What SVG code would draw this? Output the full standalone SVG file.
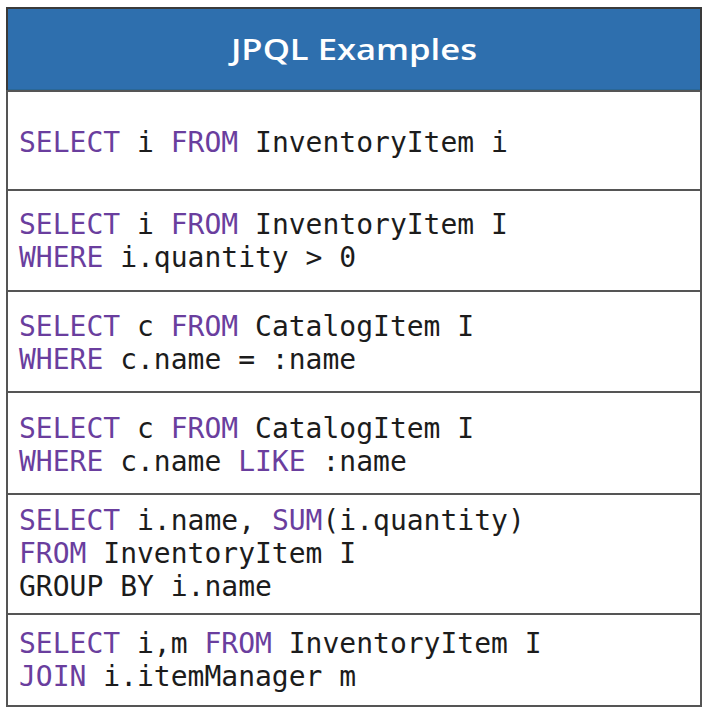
<svg xmlns="http://www.w3.org/2000/svg" width="707" height="712" viewBox="0 0 707 712">
<style>
.code{font-family:"DejaVu Sans Mono","Liberation Mono",monospace;font-size:28px;fill:#1c1c1c}
.kw{fill:#6a3e9e}
.title{font-family:"Open Sans",Lato,sans-serif;font-size:28px;font-weight:600;fill:#ffffff}
.row{fill:#ffffff;stroke:#555555;stroke-width:2}
</style>
<rect x="0" y="0" width="707" height="712" fill="#ffffff"/>
<g id="header">
<rect x="7" y="8" width="694" height="83" fill="#2e6fae" stroke="#3a3a3a" stroke-width="2"/>
<line x1="7" y1="91" x2="701" y2="91" stroke="#1f4f5a" stroke-width="2.5"/>
<text class="title" x="354" y="60" text-anchor="middle" textLength="246" lengthAdjust="spacingAndGlyphs">JPQL Examples</text>
</g>
<g id="row1">
<rect class="row" x="7" y="91" width="694" height="99"/>
<text class="code" x="19" y="152"><tspan class="kw">SELECT</tspan> i <tspan class="kw">FROM</tspan> InventoryItem i</text>
</g>
<g id="row2">
<rect class="row" x="7" y="190" width="694" height="101"/>
<text class="code" x="19" y="234"><tspan class="kw">SELECT</tspan> i <tspan class="kw">FROM</tspan> InventoryItem I</text>
<text class="code" x="19" y="267"><tspan class="kw">WHERE</tspan> i.quantity &gt; 0</text>
</g>
<g id="row3">
<rect class="row" x="7" y="291" width="694" height="101"/>
<text class="code" x="19" y="336"><tspan class="kw">SELECT</tspan> c <tspan class="kw">FROM</tspan> CatalogItem I</text>
<text class="code" x="19" y="369"><tspan class="kw">WHERE</tspan> c.name = :name</text>
</g>
<g id="row4">
<rect class="row" x="7" y="392" width="694" height="102"/>
<text class="code" x="19" y="438"><tspan class="kw">SELECT</tspan> c <tspan class="kw">FROM</tspan> CatalogItem I</text>
<text class="code" x="19" y="471"><tspan class="kw">WHERE</tspan> c.name <tspan class="kw">LIKE</tspan> :name</text>
</g>
<g id="row5">
<rect class="row" x="7" y="494" width="694" height="120"/>
<text class="code" x="19" y="530"><tspan class="kw">SELECT</tspan> i.name, <tspan class="kw">SUM</tspan>(i.quantity)</text>
<text class="code" x="19" y="563"><tspan class="kw">FROM</tspan> InventoryItem I</text>
<text class="code" x="19" y="596">GROUP BY i.name</text>
</g>
<g id="row6">
<rect class="row" x="7" y="614" width="694" height="92"/>
<text class="code" x="19" y="653"><tspan class="kw">SELECT</tspan> i,m <tspan class="kw">FROM</tspan> InventoryItem I</text>
<text class="code" x="19" y="686"><tspan class="kw">JOIN</tspan> i.itemManager m</text>
</g>
</svg>
